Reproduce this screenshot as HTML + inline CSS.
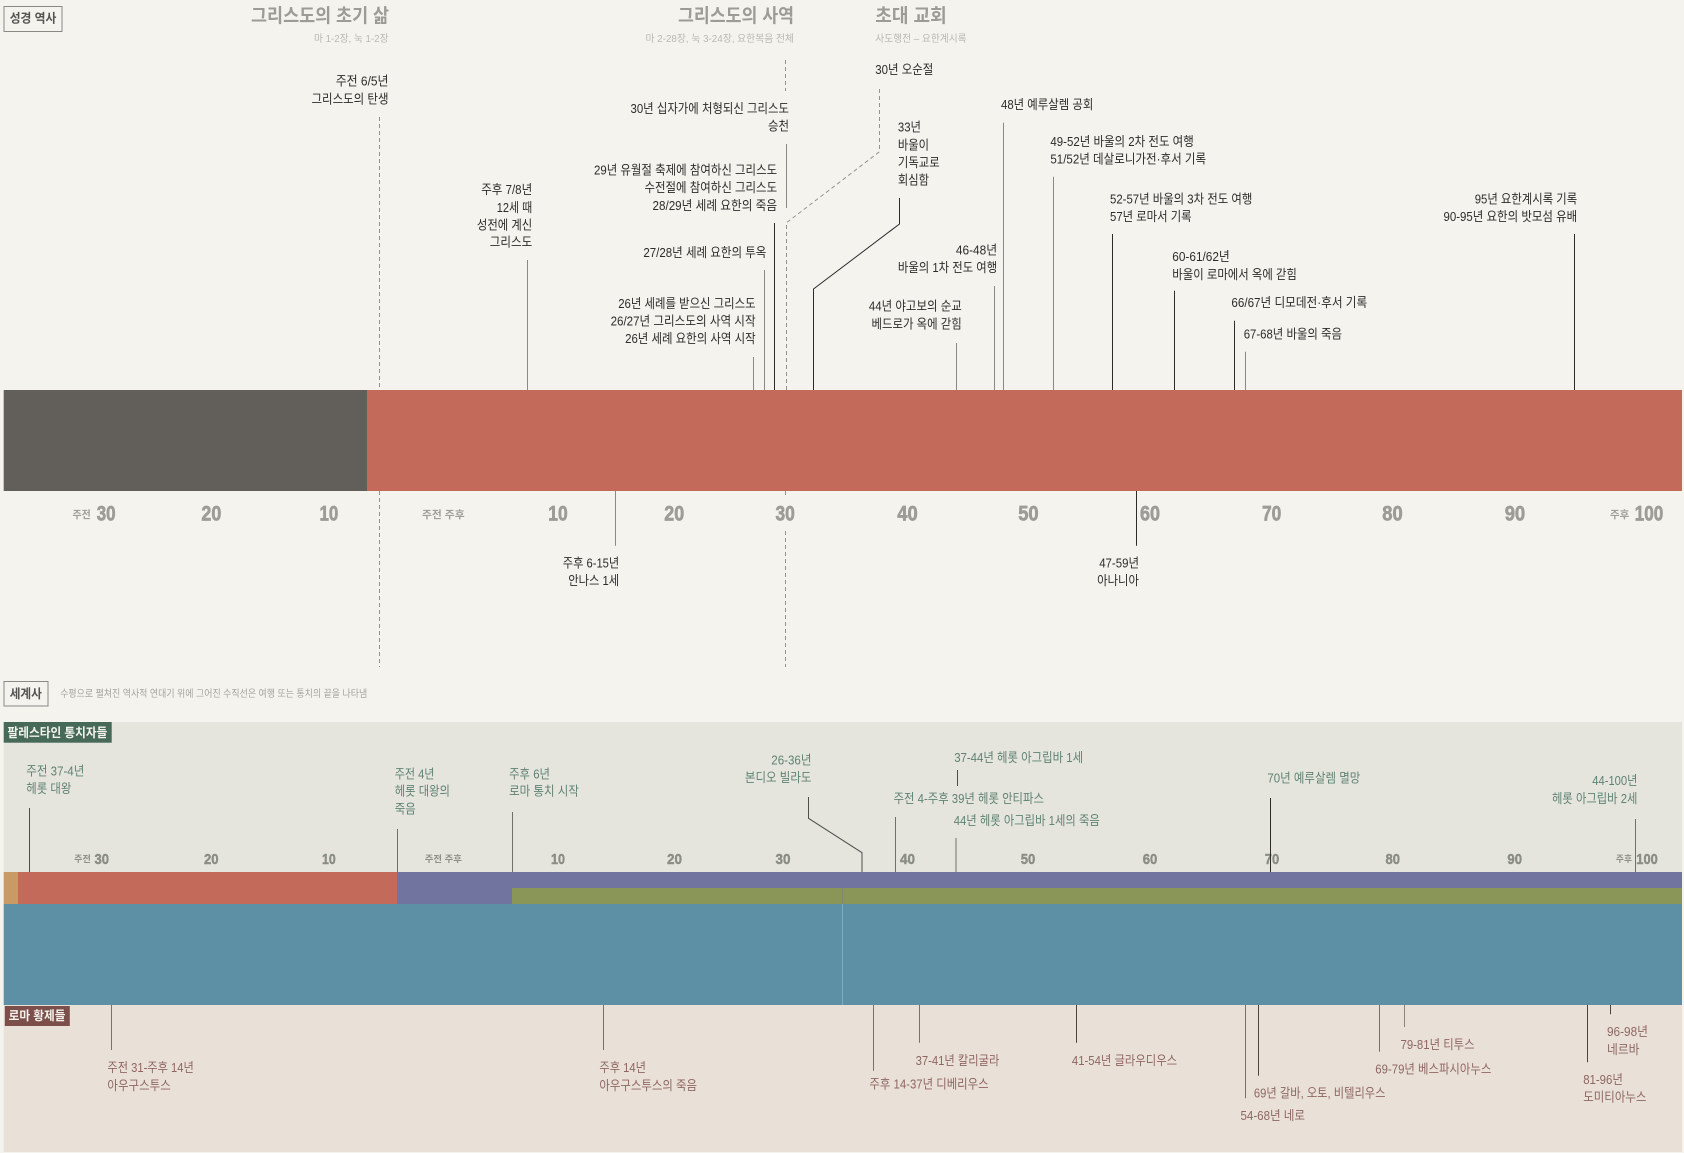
<!DOCTYPE html>
<html lang="ko"><head><meta charset="utf-8"><title>성경 역사 연대기</title>
<style>
html,body{margin:0;padding:0;background:#f4f3ee}
svg{display:block}
text{font-family:"Liberation Sans","Noto Sans CJK KR",sans-serif;white-space:pre}
.b{font-size:13px;fill:#2e2c2a}
.t{font-size:19px;font-weight:700;fill:#9c9b95}
.s{font-size:10px;fill:#b9b8b2}
.n{font-size:21.5px;font-weight:700;fill:#9d9c97;stroke:#9d9c97;stroke-width:.7px}
.u{font-size:10.5px;font-weight:700;fill:#a09f9a}
.gn{font-size:15px;font-weight:700;fill:#8b8e84;stroke:#8b8e84;stroke-width:.45px}
.gu{font-size:9px;font-weight:700;fill:#8f9288}
.g{font-size:13px;fill:#5f8272}
.r{font-size:13px;fill:#8f6661}
.h{font-size:12.5px;font-weight:700;fill:#55534f}
.w{font-size:12.5px;font-weight:700;fill:#f4f3ee}
.d{stroke:#2e2c2a;stroke-width:1;fill:none}
.m{stroke:#8a8985;stroke-width:1;fill:none}
.x{stroke:#94938e;stroke-width:1;stroke-dasharray:4 3;fill:none}
</style></head><body>
<svg width="1684" height="1153" viewBox="0 0 1684 1153" xmlns="http://www.w3.org/2000/svg">
<rect width="1684" height="1153" fill="#f4f3ee"/>
<!-- panels -->
<rect x="3.7" y="722" width="1678.3" height="150" fill="#e5e5dd"/>
<rect x="3.7" y="1005" width="1678.3" height="147" fill="#e9e1d8"/>
<!-- main bar -->
<rect x="3.7" y="390" width="363.3" height="101" fill="#625e59"/>
<rect x="367" y="390" width="1315" height="101" fill="#c46a5b"/>
<!-- rulers bar -->
<rect x="3.7" y="872" width="14.3" height="32" fill="#c99a63"/>
<rect x="18" y="872" width="379" height="32" fill="#c46a5b"/>
<rect x="397" y="872" width="1285" height="32" fill="#7274a0"/>
<rect x="512" y="888" width="1170" height="16" fill="#8a9658"/>
<rect x="3.7" y="904" width="1678.3" height="101" fill="#5d90a5"/>
<path d="M842.5 888V904" stroke="#7f8a6a" stroke-width="1"/>
<path d="M842.5 904V1005" stroke="#82a9ba" stroke-width="1"/>
<!-- section tags -->
<rect x="4" y="6.5" width="58" height="25" fill="none" stroke="#8a8985"/>
<text class="h" x="9.7" y="22.7" textLength="46.7" lengthAdjust="spacingAndGlyphs">성경 역사</text>
<rect x="4" y="681.5" width="44" height="24.5" fill="none" stroke="#8a8985"/>
<text class="h" x="9.7" y="698" textLength="32.2" lengthAdjust="spacingAndGlyphs">세계사</text>
<text class="s" x="60.2" y="697" textLength="307" lengthAdjust="spacingAndGlyphs" style="fill:#a5a49e">수평으로 펼쳐진 역사적 연대기 위에 그어진 수직선은 여행 또는 통치의 끝을 나타냄</text>
<rect x="3.7" y="722" width="108" height="20.7" fill="#466a57"/>
<text class="w" x="7.5" y="737" textLength="99.9" lengthAdjust="spacingAndGlyphs">팔레스타인 통치자들</text>
<rect x="4.8" y="1006" width="65" height="20" fill="#7d4f4b"/>
<text class="w" x="8.6" y="1020" textLength="56.9" lengthAdjust="spacingAndGlyphs">로마 황제들</text>
<!-- headings -->
<text class="t" x="251" y="22" textLength="138" lengthAdjust="spacingAndGlyphs">그리스도의 초기 삶</text>
<text class="s" x="314" y="42" textLength="74.5" lengthAdjust="spacingAndGlyphs">마 1-2장, 눅 1-2장</text>
<text class="t" x="678" y="22" textLength="116" lengthAdjust="spacingAndGlyphs">그리스도의 사역</text>
<text class="s" x="645.5" y="42" textLength="148.5" lengthAdjust="spacingAndGlyphs">마 2-28장, 눅 3-24장, 요한복음 전체</text>
<text class="t" x="875.3" y="22" textLength="71.4" lengthAdjust="spacingAndGlyphs">초대 교회</text>
<text class="s" x="875.3" y="42" textLength="91.3" lengthAdjust="spacingAndGlyphs">사도행전 – 요한계시록</text>
<!-- dashed lines -->
<path class="x" d="M379.5 117V390M379.5 491V667"/>
<path class="x" d="M785.5 60V91"/>
<path class="x" d="M786.5 390V222.7L879.5 151.7V88"/>
<path class="x" d="M785.5 491V498M785.5 531V667"/>
<!-- top connectors -->
<path class="m" d="M786.5 144V208"/>
<path class="d" d="M774.5 223V390"/>
<path class="m" d="M764.5 270V390"/>
<path class="m" d="M753.5 357V390"/>
<path class="m" d="M527.5 260V390"/>
<path class="d" d="M813.5 390V289L899.5 224V198"/>
<path class="m" d="M956.5 343V390"/>
<path class="m" d="M994.5 286V390"/>
<path class="m" d="M1003.5 122.7V390"/>
<path class="m" d="M1053.5 176.7V390"/>
<path class="d" d="M1112.5 234V390"/>
<path class="d" d="M1174.5 290.7V390"/>
<path class="d" d="M1234.5 320.7V390"/>
<path class="m" d="M1245.5 351.7V390"/>
<path class="d" d="M1574.5 234V390"/>
<path class="m" d="M615.5 491V545.7"/>
<path class="d" d="M1136.5 491V545.7"/>
<!-- upper labels -->
<text class="b" x="335.7" y="85.7" textLength="52.8" lengthAdjust="spacingAndGlyphs">주전 6/5년</text>
<text class="b" x="311.5" y="103.5" textLength="77" lengthAdjust="spacingAndGlyphs">그리스도의 탄생</text>
<text class="b" x="630.5" y="113" textLength="158.5" lengthAdjust="spacingAndGlyphs">30년 십자가에 처형되신 그리스도</text>
<text class="b" x="768" y="130.4" textLength="21" lengthAdjust="spacingAndGlyphs">승천</text>
<text class="b" x="481.2" y="194" textLength="51" lengthAdjust="spacingAndGlyphs">주후 7/8년</text>
<text class="b" x="496.8" y="212" textLength="35.4" lengthAdjust="spacingAndGlyphs">12세 때</text>
<text class="b" x="476.9" y="229.4" textLength="55.3" lengthAdjust="spacingAndGlyphs">성전에 계신</text>
<text class="b" x="489.8" y="246.7" textLength="42.4" lengthAdjust="spacingAndGlyphs">그리스도</text>
<text class="b" x="594" y="174.7" textLength="183.1" lengthAdjust="spacingAndGlyphs">29년 유월절 축제에 참여하신 그리스도</text>
<text class="b" x="644.5" y="192" textLength="132.6" lengthAdjust="spacingAndGlyphs">수전절에 참여하신 그리스도</text>
<text class="b" x="652.5" y="210" textLength="124.6" lengthAdjust="spacingAndGlyphs">28/29년 세례 요한의 죽음</text>
<text class="b" x="643.4" y="257" textLength="123" lengthAdjust="spacingAndGlyphs">27/28년 세례 요한의 투옥</text>
<text class="b" x="618.2" y="308" textLength="137.4" lengthAdjust="spacingAndGlyphs">26년 세례를 받으신 그리스도</text>
<text class="b" x="610.6" y="325.7" textLength="145" lengthAdjust="spacingAndGlyphs">26/27년 그리스도의 사역 시작</text>
<text class="b" x="625.1" y="343" textLength="130.5" lengthAdjust="spacingAndGlyphs">26년 세례 요한의 사역 시작</text>
<text class="b" x="875.3" y="74" textLength="58" lengthAdjust="spacingAndGlyphs">30년 오순절</text>
<text class="b" x="1001" y="109" textLength="92.3" lengthAdjust="spacingAndGlyphs">48년 예루살렘 공회</text>
<text class="b" x="897.9" y="131.7" textLength="23.1" lengthAdjust="spacingAndGlyphs">33년</text>
<text class="b" x="897.9" y="149.7" textLength="31.1" lengthAdjust="spacingAndGlyphs">바울이</text>
<text class="b" x="897.9" y="167" textLength="41.8" lengthAdjust="spacingAndGlyphs">기독교로</text>
<text class="b" x="897.9" y="184.7" textLength="31.1" lengthAdjust="spacingAndGlyphs">회심함</text>
<text class="b" x="1050.4" y="146" textLength="143.4" lengthAdjust="spacingAndGlyphs">49-52년 바울의 2차 전도 여행</text>
<text class="b" x="1050.4" y="163.4" textLength="155.7" lengthAdjust="spacingAndGlyphs">51/52년 데살로니가전·후서 기록</text>
<text class="b" x="1110" y="203.7" textLength="142.3" lengthAdjust="spacingAndGlyphs">52-57년 바울의 3차 전도 여행</text>
<text class="b" x="1110" y="221" textLength="81.6" lengthAdjust="spacingAndGlyphs">57년 로마서 기록</text>
<text class="b" x="1474.7" y="203.7" textLength="102.5" lengthAdjust="spacingAndGlyphs">95년 요한계시록 기록</text>
<text class="b" x="1443.5" y="221" textLength="133.7" lengthAdjust="spacingAndGlyphs">90-95년 요한의 밧모섬 유배</text>
<text class="b" x="955.9" y="254.7" textLength="41.3" lengthAdjust="spacingAndGlyphs">46-48년</text>
<text class="b" x="897.9" y="272" textLength="99.3" lengthAdjust="spacingAndGlyphs">바울의 1차 전도 여행</text>
<text class="b" x="1172.3" y="261" textLength="57.5" lengthAdjust="spacingAndGlyphs">60-61/62년</text>
<text class="b" x="1172.3" y="279" textLength="124.6" lengthAdjust="spacingAndGlyphs">바울이 로마에서 옥에 갇힘</text>
<text class="b" x="868.9" y="310.3" textLength="92.9" lengthAdjust="spacingAndGlyphs">44년 야고보의 순교</text>
<text class="b" x="871.5" y="328.3" textLength="90.3" lengthAdjust="spacingAndGlyphs">베드로가 옥에 갇힘</text>
<text class="b" x="1231.4" y="307" textLength="135.8" lengthAdjust="spacingAndGlyphs">66/67년 디모데전·후서 기록</text>
<text class="b" x="1243.7" y="338.7" textLength="98.3" lengthAdjust="spacingAndGlyphs">67-68년 바울의 죽음</text>
<text class="b" x="562.8" y="567.4" textLength="56.4" lengthAdjust="spacingAndGlyphs">주후 6-15년</text>
<text class="b" x="568.2" y="585" textLength="51" lengthAdjust="spacingAndGlyphs">안나스 1세</text>
<text class="b" x="1099.2" y="567.4" textLength="39.8" lengthAdjust="spacingAndGlyphs">47-59년</text>
<text class="b" x="1097.1" y="585" textLength="41.9" lengthAdjust="spacingAndGlyphs">아나니아</text>
<!-- main axis -->
<text class="u" x="72.5" y="518" textLength="18.3" lengthAdjust="spacingAndGlyphs">주전</text>
<text class="n" x="96.7" y="520.7" textLength="18.8" lengthAdjust="spacingAndGlyphs">30</text>
<text class="n" x="201.4" y="520.7" textLength="19.9" lengthAdjust="spacingAndGlyphs">20</text>
<text class="n" x="319.5" y="520.7" textLength="18.8" lengthAdjust="spacingAndGlyphs">10</text>
<text class="u" x="422" y="518" textLength="42.6" lengthAdjust="spacingAndGlyphs">주전 주후</text>
<text class="n" x="548.3" y="520.7" textLength="19.4" lengthAdjust="spacingAndGlyphs">10</text>
<text class="n" x="664.3" y="520.7" textLength="19.9" lengthAdjust="spacingAndGlyphs">20</text>
<text class="n" x="775.5" y="520.7" textLength="19.3" lengthAdjust="spacingAndGlyphs">30</text>
<text class="n" x="897.3" y="520.7" textLength="20.4" lengthAdjust="spacingAndGlyphs">40</text>
<text class="n" x="1018.2" y="520.7" textLength="20.4" lengthAdjust="spacingAndGlyphs">50</text>
<text class="n" x="1140" y="520.7" textLength="20" lengthAdjust="spacingAndGlyphs">60</text>
<text class="n" x="1262" y="520.7" textLength="19.3" lengthAdjust="spacingAndGlyphs">70</text>
<text class="n" x="1382.3" y="520.7" textLength="20.4" lengthAdjust="spacingAndGlyphs">80</text>
<text class="n" x="1504.7" y="520.7" textLength="20.5" lengthAdjust="spacingAndGlyphs">90</text>
<text class="u" x="1610" y="518" textLength="19.3" lengthAdjust="spacingAndGlyphs">주후</text>
<text class="n" x="1634.7" y="520.7" textLength="28.5" lengthAdjust="spacingAndGlyphs">100</text>
<!-- secondary axis -->
<text class="gu" x="74.1" y="862" textLength="16.7" lengthAdjust="spacingAndGlyphs">주전</text>
<text class="gn" x="94.5" y="864" textLength="14.5" lengthAdjust="spacingAndGlyphs">30</text>
<text class="gn" x="204" y="864" textLength="14.6" lengthAdjust="spacingAndGlyphs">20</text>
<text class="gn" x="322" y="864" textLength="13.7" lengthAdjust="spacingAndGlyphs">10</text>
<text class="gu" x="424.8" y="862" textLength="37.1" lengthAdjust="spacingAndGlyphs">주전 주후</text>
<text class="gn" x="551" y="864" textLength="14" lengthAdjust="spacingAndGlyphs">10</text>
<text class="gn" x="667" y="864" textLength="15" lengthAdjust="spacingAndGlyphs">20</text>
<text class="gn" x="775.5" y="864" textLength="15" lengthAdjust="spacingAndGlyphs">30</text>
<text class="gn" x="900" y="864" textLength="15" lengthAdjust="spacingAndGlyphs">40</text>
<text class="gn" x="1020.8" y="864" textLength="14.5" lengthAdjust="spacingAndGlyphs">50</text>
<text class="gn" x="1142.7" y="864" textLength="14.6" lengthAdjust="spacingAndGlyphs">60</text>
<text class="gn" x="1264.7" y="864" textLength="14.5" lengthAdjust="spacingAndGlyphs">70</text>
<text class="gn" x="1385.5" y="864" textLength="14.5" lengthAdjust="spacingAndGlyphs">80</text>
<text class="gn" x="1507.4" y="864" textLength="14.6" lengthAdjust="spacingAndGlyphs">90</text>
<text class="gu" x="1615.9" y="862" textLength="16.1" lengthAdjust="spacingAndGlyphs">주후</text>
<text class="gn" x="1636.3" y="864" textLength="21.5" lengthAdjust="spacingAndGlyphs">100</text>
<!-- green connectors -->
<path class="d" d="M29.5 808V872" style="stroke:#4a4f49"/>
<path class="m" d="M397.5 829V872" style="stroke:#6e716b"/>
<path class="m" d="M512.5 812V872" style="stroke:#6e716b"/>
<path class="d" d="M808.5 797V818.3L862 852.7V872" style="stroke:#4a4f49"/>
<path class="m" d="M895.5 817V872" style="stroke:#6e716b"/>
<path class="m" d="M956 838V872" style="stroke:#6e716b"/>
<path class="d" d="M957.5 770V786" style="stroke:#4a4f49"/>
<path class="d" d="M1270.5 798V872" style="stroke:#2e2c2a"/>
<path class="m" d="M1635.5 819V872" style="stroke:#6e716b"/>
<!-- green labels -->
<text class="g" x="26.3" y="775.7" textLength="58" lengthAdjust="spacingAndGlyphs">주전 37-4년</text>
<text class="g" x="26.3" y="793" textLength="45.1" lengthAdjust="spacingAndGlyphs">헤롯 대왕</text>
<text class="g" x="394.7" y="778.4" textLength="39.8" lengthAdjust="spacingAndGlyphs">주전 4년</text>
<text class="g" x="394.7" y="795.7" textLength="55.3" lengthAdjust="spacingAndGlyphs">헤롯 대왕의</text>
<text class="g" x="394.7" y="813.4" textLength="21" lengthAdjust="spacingAndGlyphs">죽음</text>
<text class="g" x="509.1" y="778.4" textLength="40.9" lengthAdjust="spacingAndGlyphs">주후 6년</text>
<text class="g" x="509.1" y="795.7" textLength="69.8" lengthAdjust="spacingAndGlyphs">로마 통치 시작</text>
<text class="g" x="771.3" y="764.4" textLength="40.2" lengthAdjust="spacingAndGlyphs">26-36년</text>
<text class="g" x="744.9" y="782" textLength="66.6" lengthAdjust="spacingAndGlyphs">본디오 빌라도</text>
<text class="g" x="954.2" y="762" textLength="128.9" lengthAdjust="spacingAndGlyphs">37-44년 헤롯 아그립바 1세</text>
<text class="g" x="893.6" y="803" textLength="150.3" lengthAdjust="spacingAndGlyphs">주전 4-주후 39년 헤롯 안티파스</text>
<text class="g" x="953.7" y="825" textLength="146.1" lengthAdjust="spacingAndGlyphs">44년 헤롯 아그립바 1세의 죽음</text>
<text class="g" x="1267.4" y="782.7" textLength="92.9" lengthAdjust="spacingAndGlyphs">70년 예루살렘 멸망</text>
<text class="g" x="1592.3" y="785" textLength="45.1" lengthAdjust="spacingAndGlyphs">44-100년</text>
<text class="g" x="1552" y="803" textLength="85.4" lengthAdjust="spacingAndGlyphs">헤롯 아그립바 2세</text>
<!-- beige connectors -->
<path class="m" d="M111.5 1005V1050" style="stroke:#7a706c"/>
<path class="m" d="M603.5 1005V1050" style="stroke:#7a706c"/>
<path class="m" d="M873.5 1005V1070.7" style="stroke:#7a706c"/>
<path class="m" d="M919.5 1005V1042.7" style="stroke:#7a706c"/>
<path class="d" d="M1076.5 1005V1042.7" style="stroke:#4a4542"/>
<path class="m" d="M1245.5 1005V1098.3" style="stroke:#7a706c"/>
<path class="d" d="M1258.5 1005V1075.7" style="stroke:#4a4542"/>
<path class="m" d="M1379.5 1005V1051.7" style="stroke:#7a706c"/>
<path class="m" d="M1404.5 1005V1027" style="stroke:#8f8580"/>
<path class="d" d="M1587.5 1005V1062.3" style="stroke:#4a4542"/>
<path class="d" d="M1610.5 1005V1014.3" style="stroke:#4a4542"/>
<!-- beige labels -->
<text class="r" x="107.4" y="1072" textLength="86.4" lengthAdjust="spacingAndGlyphs">주전 31-주후 14년</text>
<text class="r" x="107.4" y="1090" textLength="63.4" lengthAdjust="spacingAndGlyphs">아우구스투스</text>
<text class="r" x="599.4" y="1072" textLength="46.6" lengthAdjust="spacingAndGlyphs">주후 14년</text>
<text class="r" x="599.4" y="1090" textLength="97.6" lengthAdjust="spacingAndGlyphs">아우구스투스의 죽음</text>
<text class="r" x="869.4" y="1088.4" textLength="119.2" lengthAdjust="spacingAndGlyphs">주후 14-37년 디베리우스</text>
<text class="r" x="915.6" y="1065" textLength="83.8" lengthAdjust="spacingAndGlyphs">37-41년 칼리굴라</text>
<text class="r" x="1071.9" y="1065" textLength="105.2" lengthAdjust="spacingAndGlyphs">41-54년 글라우디우스</text>
<text class="r" x="1253.9" y="1097.7" textLength="131.6" lengthAdjust="spacingAndGlyphs">69년 갈바, 오토, 비텔리우스</text>
<text class="r" x="1240.5" y="1120" textLength="64.5" lengthAdjust="spacingAndGlyphs">54-68년 네로</text>
<text class="r" x="1400.5" y="1049" textLength="74.1" lengthAdjust="spacingAndGlyphs">79-81년 티투스</text>
<text class="r" x="1375.3" y="1073.7" textLength="116" lengthAdjust="spacingAndGlyphs">69-79년 베스파시아누스</text>
<text class="r" x="1607" y="1036" textLength="41" lengthAdjust="spacingAndGlyphs">96-98년</text>
<text class="r" x="1607" y="1054" textLength="32.5" lengthAdjust="spacingAndGlyphs">네르바</text>
<text class="r" x="1583.2" y="1084" textLength="39.7" lengthAdjust="spacingAndGlyphs">81-96년</text>
<text class="r" x="1583.2" y="1101.7" textLength="63.3" lengthAdjust="spacingAndGlyphs">도미티아누스</text>
</svg>
</body></html>
